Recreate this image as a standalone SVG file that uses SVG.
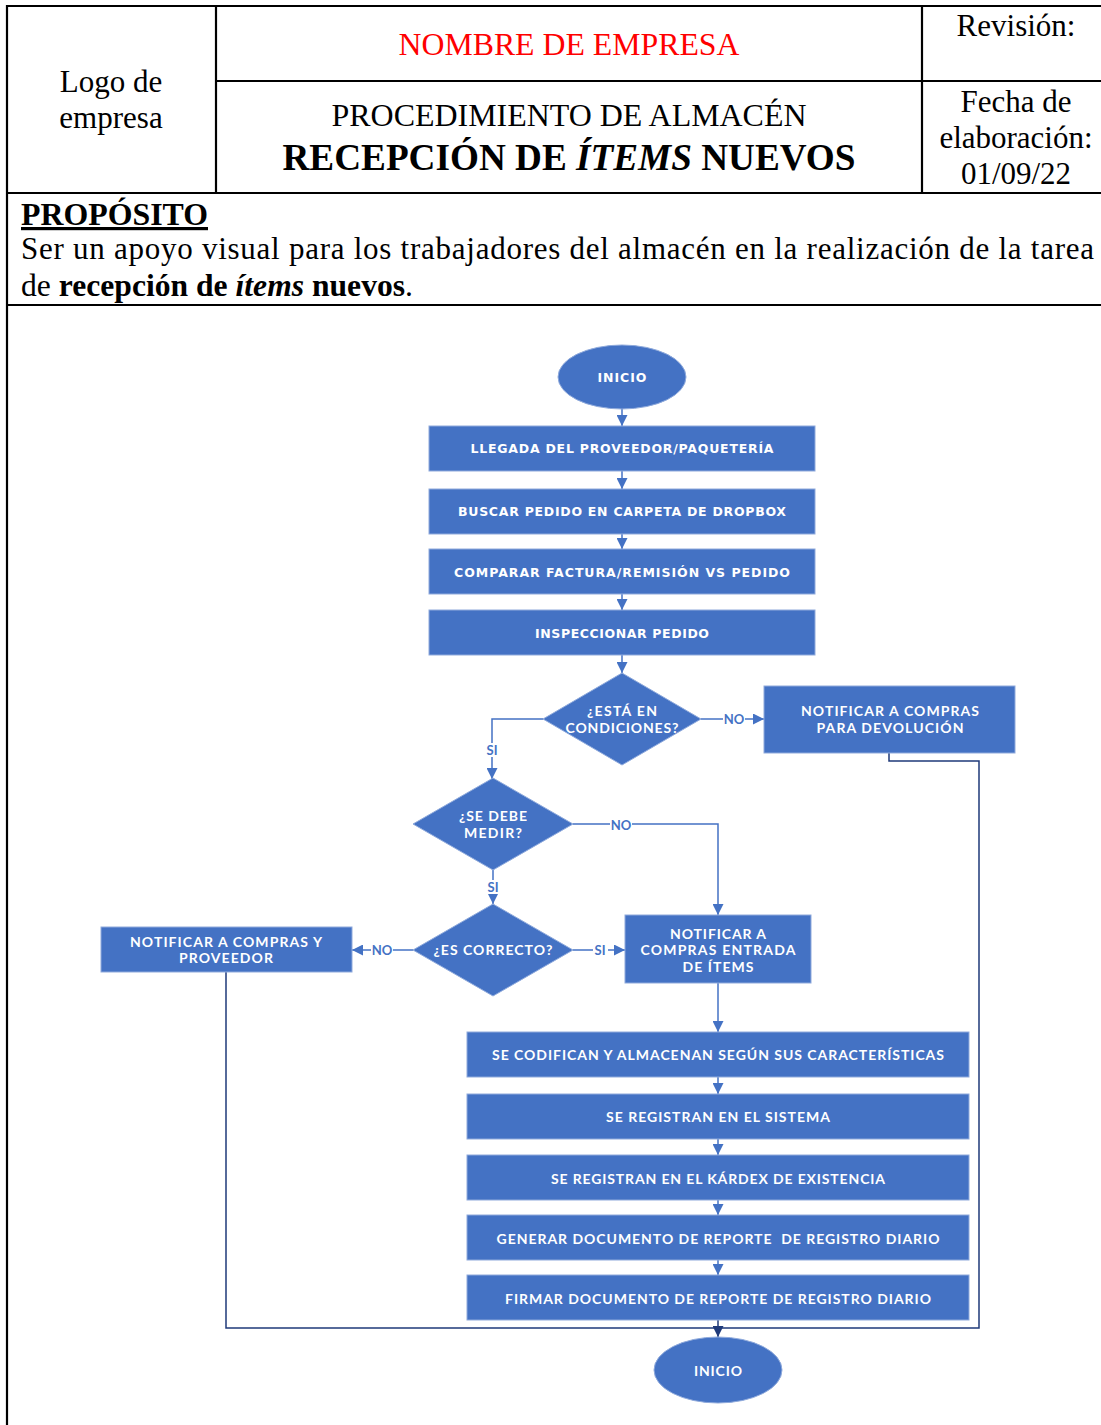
<svg xmlns="http://www.w3.org/2000/svg" width="1101" height="1425" viewBox="0 0 1101 1425">
  <style>
    .frame { stroke: #000; stroke-width: 2.2; fill: none; }
    .serif { font-family: "Liberation Serif", "Times New Roman", serif; fill: #000; }
    .shape { fill: #4472C4; stroke: #8FAADC; stroke-width: 1; }
    .lbl { font-family: "DejaVu Sans", "Open Sans", sans-serif; font-weight: 700; font-size: 12.5px; fill: #fff; text-anchor: middle; dominant-baseline: central; }
    .lbl2 { font-family: "Lato", "Open Sans", sans-serif; font-weight: 700; font-size: 14px; fill: #fff; text-anchor: middle; dominant-baseline: central; }
    .conn { stroke: #4472C4; stroke-width: 1.5; fill: none; }
    .navy { stroke: #1F3A7A; stroke-width: 1.5; fill: none; }
    .tag { font-family: "Lato", "Open Sans", sans-serif; font-weight: 700; font-size: 13px; fill: #4472C4; text-anchor: middle; dominant-baseline: central; }
  </style>
  <defs>
    <marker id="arrow" markerUnits="userSpaceOnUse" viewBox="0 0 10 10" refX="10" refY="5" markerWidth="11" markerHeight="11" orient="auto">
      <path d="M0,0 L10,5 L0,10 z" fill="#4472C4"/>
    </marker>
    <marker id="arrowNavy" markerUnits="userSpaceOnUse" viewBox="0 0 10 10" refX="10" refY="5" markerWidth="11" markerHeight="11" orient="auto">
      <path d="M0,0 L10,5 L0,10 z" fill="#1F3A7A"/>
    </marker>
  </defs>

  <rect width="1101" height="1425" fill="#fff"/>

  <!-- document frame and header table -->
  <g id="frame">
    <path class="frame" d="M7,5 V1425"/>
    <path class="frame" d="M6,6 H1101"/>
    <path class="frame" d="M216,81 H1101"/>
    <path class="frame" d="M6,193 H1101"/>
    <path class="frame" d="M6,305 H1101"/>
    <path class="frame" d="M216,6 V193"/>
    <path class="frame" d="M922,6 V193"/>
  </g>

  <g id="header">
    <text class="serif" font-size="31" x="111" y="92" text-anchor="middle">Logo de</text>
    <text class="serif" font-size="31" x="111" y="128" text-anchor="middle">empresa</text>
    <text class="serif" font-size="31" x="569" y="55" text-anchor="middle" style="fill:#FF0000" textLength="341" lengthAdjust="spacingAndGlyphs">NOMBRE DE EMPRESA</text>
    <text class="serif" font-size="31" x="1016" y="36" text-anchor="middle">Revisión:</text>
    <text class="serif" font-size="31" x="569" y="126" text-anchor="middle" textLength="475" lengthAdjust="spacingAndGlyphs">PROCEDIMIENTO DE ALMACÉN</text>
    <text class="serif" font-size="37" font-weight="700" x="569" y="170" text-anchor="middle" textLength="573" lengthAdjust="spacingAndGlyphs">RECEPCIÓN DE <tspan font-style="italic">ÍTEMS</tspan> NUEVOS</text>
    <text class="serif" font-size="31" x="1016" y="112" text-anchor="middle">Fecha de</text>
    <text class="serif" font-size="31" x="1016" y="148" text-anchor="middle">elaboración:</text>
    <text class="serif" font-size="31" x="1016" y="184" text-anchor="middle">01/09/22</text>
  </g>

  <g id="purpose">
    <text class="serif" font-size="32" font-weight="700" x="21" y="225" text-decoration="underline" textLength="187" lengthAdjust="spacingAndGlyphs">PROPÓSITO</text>
    <text class="serif" font-size="31" x="21" y="259" textLength="1073" lengthAdjust="spacing">Ser un apoyo visual para los trabajadores del almacén en la realización de la tarea</text>
    <text class="serif" font-size="31" x="21" y="296" textLength="392" lengthAdjust="spacingAndGlyphs">de <tspan font-weight="700">recepción de <tspan font-style="italic">ítems</tspan> nuevos</tspan>.</text>
  </g>

  <!-- connectors -->
  <g id="connectors">
    <path class="conn" d="M622,409 V426" marker-end="url(#arrow)"/>
    <path class="conn" d="M622,471 V489" marker-end="url(#arrow)"/>
    <path class="conn" d="M622,534 V549" marker-end="url(#arrow)"/>
    <path class="conn" d="M622,594 V610" marker-end="url(#arrow)"/>
    <path class="conn" d="M622,655 V673" marker-end="url(#arrow)"/>
    <path class="conn" d="M701,719 H764" marker-end="url(#arrow)"/>
    <path class="conn" d="M543,719 H492 V779" marker-end="url(#arrow)"/>
    <path class="conn" d="M573,824 H718 V915" marker-end="url(#arrow)"/>
    <path class="conn" d="M493,870 V904" marker-end="url(#arrow)"/>
    <path class="conn" d="M413,950 H352" marker-end="url(#arrow)"/>
    <path class="conn" d="M573,950 H625" marker-end="url(#arrow)"/>
    <path class="conn" d="M718,983 V1032" marker-end="url(#arrow)"/>
    <path class="conn" d="M718,1077 V1094" marker-end="url(#arrow)"/>
    <path class="conn" d="M718,1139 V1155" marker-end="url(#arrow)"/>
    <path class="conn" d="M718,1200 V1215" marker-end="url(#arrow)"/>
    <path class="conn" d="M718,1260 V1275" marker-end="url(#arrow)"/>
    <path class="navy" d="M226,972 V1328 H979 V761 H889 V753"/>
    <path class="navy" d="M718,1320 V1337" marker-end="url(#arrowNavy)"/>

    <rect x="723" y="712" width="22" height="14" fill="#fff"/>
    <text class="tag" x="734" y="719">NO</text>
    <rect x="485" y="743" width="15" height="14" fill="#fff"/>
    <text class="tag" x="492" y="750">SI</text>
    <rect x="610" y="818" width="22" height="14" fill="#fff"/>
    <text class="tag" x="621" y="825">NO</text>
    <rect x="486" y="880" width="15" height="14" fill="#fff"/>
    <text class="tag" x="493" y="887">SI</text>
    <rect x="371" y="943" width="22" height="14" fill="#fff"/>
    <text class="tag" x="382" y="950">NO</text>
    <rect x="593" y="943" width="15" height="14" fill="#fff"/>
    <text class="tag" x="600" y="950">SI</text>
  </g>

  <!-- nodes -->
  <g id="start">
    <ellipse class="shape" cx="622" cy="377" rx="64" ry="32"/>
    <text class="lbl" x="622" y="377" textLength="49" lengthAdjust="spacing">INICIO</text>
  </g>
  <g id="arrival">
    <rect class="shape" x="429" y="426" width="386" height="45"/>
    <text class="lbl" x="622" y="448" textLength="303" lengthAdjust="spacing">LLEGADA DEL PROVEEDOR/PAQUETERÍA</text>
  </g>
  <g id="search-order">
    <rect class="shape" x="429" y="489" width="386" height="45"/>
    <text class="lbl" x="622" y="511" textLength="328" lengthAdjust="spacing">BUSCAR PEDIDO EN CARPETA DE DROPBOX</text>
  </g>
  <g id="compare">
    <rect class="shape" x="429" y="549" width="386" height="45"/>
    <text class="lbl" x="622" y="572" textLength="336" lengthAdjust="spacing">COMPARAR FACTURA/REMISIÓN VS PEDIDO</text>
  </g>
  <g id="inspect">
    <rect class="shape" x="429" y="610" width="386" height="45"/>
    <text class="lbl" x="622" y="633" textLength="174" lengthAdjust="spacing">INSPECCIONAR PEDIDO</text>
  </g>
  <g id="condition-check">
    <polygon class="shape" points="622,673 701,719 622,765 543,719"/>
    <text class="lbl2" x="622" y="710" textLength="70" lengthAdjust="spacing">¿ESTÁ EN</text>
    <text class="lbl2" x="622" y="727" textLength="113" lengthAdjust="spacing">CONDICIONES?</text>
  </g>
  <g id="notify-return">
    <rect class="shape" x="764" y="686" width="251" height="67"/>
    <text class="lbl2" x="890" y="710" textLength="178" lengthAdjust="spacing">NOTIFICAR A COMPRAS</text>
    <text class="lbl2" x="890" y="727" textLength="147" lengthAdjust="spacing">PARA DEVOLUCIÓN</text>
  </g>
  <g id="measure-check">
    <polygon class="shape" points="493,778 573,824 493,870 413,824"/>
    <text class="lbl2" x="493" y="815" textLength="68" lengthAdjust="spacing">¿SE DEBE</text>
    <text class="lbl2" x="493" y="832" textLength="58" lengthAdjust="spacing">MEDIR?</text>
  </g>
  <g id="correct-check">
    <polygon class="shape" points="493,904 573,950 493,996 413,950"/>
    <text class="lbl2" x="493" y="949" textLength="119" lengthAdjust="spacing">¿ES CORRECTO?</text>
  </g>
  <g id="notify-supplier">
    <rect class="shape" x="101" y="927" width="251" height="45"/>
    <text class="lbl2" x="226" y="941" textLength="192" lengthAdjust="spacing">NOTIFICAR A COMPRAS Y</text>
    <text class="lbl2" x="226" y="957" textLength="94" lengthAdjust="spacing">PROVEEDOR</text>
  </g>
  <g id="notify-entry">
    <rect class="shape" x="625" y="915" width="186" height="68"/>
    <text class="lbl2" x="718" y="933" textLength="96" lengthAdjust="spacing">NOTIFICAR A</text>
    <text class="lbl2" x="718" y="949" textLength="155" lengthAdjust="spacing">COMPRAS ENTRADA</text>
    <text class="lbl2" x="718" y="966" textLength="71" lengthAdjust="spacing">DE ÍTEMS</text>
  </g>
  <g id="codify-store">
    <rect class="shape" x="467" y="1032" width="502" height="45"/>
    <text class="lbl2" x="718" y="1054" textLength="452" lengthAdjust="spacing">SE CODIFICAN Y ALMACENAN SEGÚN SUS CARACTERÍSTICAS</text>
  </g>
  <g id="register-system">
    <rect class="shape" x="467" y="1094" width="502" height="45"/>
    <text class="lbl2" x="718" y="1116" textLength="224" lengthAdjust="spacing">SE REGISTRAN EN EL SISTEMA</text>
  </g>
  <g id="register-kardex">
    <rect class="shape" x="467" y="1155" width="502" height="45"/>
    <text class="lbl2" x="718" y="1178" textLength="334" lengthAdjust="spacing">SE REGISTRAN EN EL KÁRDEX DE EXISTENCIA</text>
  </g>
  <g id="generate-report">
    <rect class="shape" x="467" y="1215" width="502" height="45"/>
    <text class="lbl2" x="718" y="1238" textLength="443" lengthAdjust="spacing" xml:space="preserve">GENERAR DOCUMENTO DE REPORTE  DE REGISTRO DIARIO</text>
  </g>
  <g id="sign-report">
    <rect class="shape" x="467" y="1275" width="502" height="45"/>
    <text class="lbl2" x="718" y="1298" textLength="426" lengthAdjust="spacing">FIRMAR DOCUMENTO DE REPORTE DE REGISTRO DIARIO</text>
  </g>
  <g id="end">
    <ellipse class="shape" cx="718" cy="1370" rx="64" ry="33"/>
    <text class="lbl2" x="718" y="1370" textLength="48" lengthAdjust="spacing">INICIO</text>
  </g>
</svg>
